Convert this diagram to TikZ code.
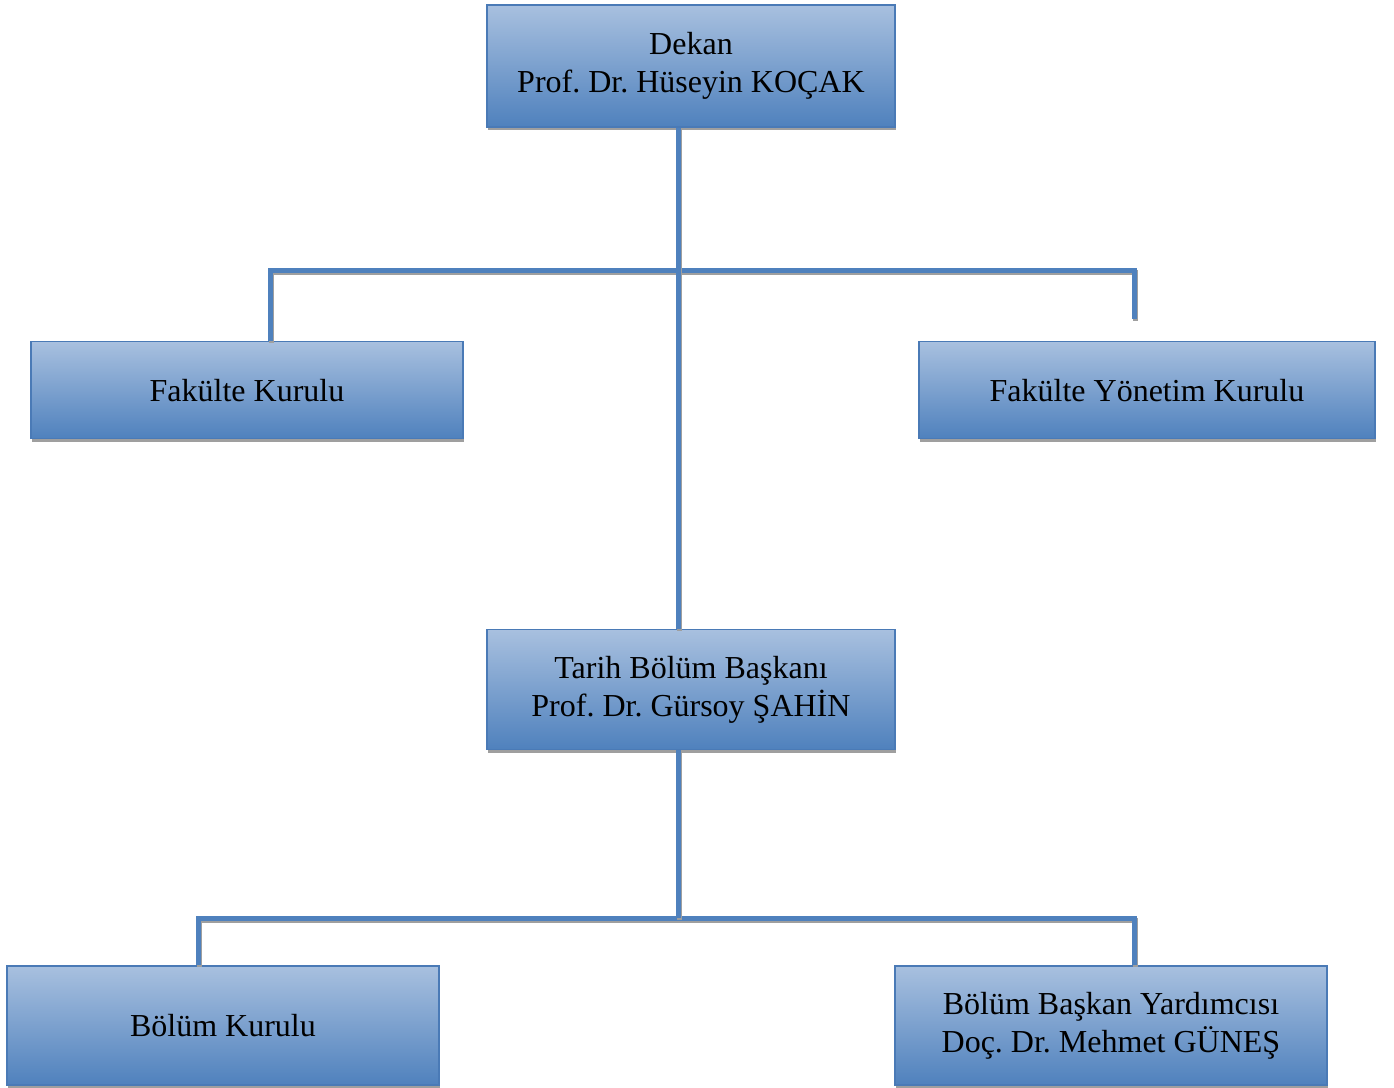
\documentclass[tikz,border=0pt]{standalone}
\usepackage{fontspec}
\setmainfont{Liberation Serif}
\usetikzlibrary{shapes,arrows,positioning,calc,shadows}

\definecolor{boxtop}{RGB}{168,192,223}
\definecolor{boxbot}{RGB}{79,129,189}
\definecolor{boxline}{RGB}{74,122,182}
\definecolor{linkblue}{RGB}{79,129,189}

\begin{document}
\frenchspacing
\begin{tikzpicture}[node distance=2.5cm, auto]

% Define styles
\tikzstyle{unit} = [rectangle, minimum width=204pt, minimum height=61pt, align=center, draw=boxline, line width=0.8pt, top color=boxtop, bottom color=boxbot, drop shadow={shadow xshift=0.6pt, shadow yshift=-1.6pt, fill=gray!75, opacity=1}, font=\fontsize{16pt}{19pt}\selectfont]
\tikzstyle{board} = [unit, minimum width=216pt, minimum height=48.5pt]
\tikzstyle{lower} = [unit, minimum width=216pt, minimum height=59.5pt]
\tikzstyle{link} = [draw=linkblue, line width=2.5pt, preaction={draw=gray!75, line width=2.5pt, transform canvas={shift={(0.5pt,-1pt)}}}]

% Dean and faculty boards
\node (dekan) [unit] {Dekan\\Prof. Dr. Hüseyin KOÇAK};
\node (fak_kurul) [board, below=106.5pt of dekan, xshift=-222pt] {Fakülte Kurulu};
\node (fak_yonetim) [board, minimum width=228pt, below=106.5pt of dekan, xshift=228pt] {Fakülte Yönetim Kurulu};

% Department
\node (bolum_bsk) [unit, minimum height=60pt, below=250.5pt of dekan] {Tarih Bölüm Başkanı\\Prof. Dr. Gürsoy ŞAHİN};
\node (bolum_kurul) [lower, below=107.5pt of bolum_bsk, xshift=-234pt] {Bölüm Kurulu};
\node (bolum_yrd) [lower, below=107.5pt of bolum_bsk, xshift=210pt] {Bölüm Başkan Yardımcısı\\Doç. Dr. Mehmet GÜNEŞ};

\useasboundingbox ([xshift=-345.5pt,yshift=33pt]dekan.center) rectangle ([xshift=351.5pt,yshift=-511pt]dekan.center);

% Connect dean
\coordinate (top_trunk) at ([xshift=-6pt]dekan.south);
\coordinate (top_bar) at ([yshift=-71.5pt]top_trunk);
\draw [link] ([xshift=12pt]fak_kurul.north) |- (top_bar) -| ([xshift=-6pt,yshift=11pt]fak_yonetim.north);
\draw [link] (top_trunk) -- (top_trunk |- bolum_bsk.north);

% Connect department
\coordinate (low_trunk) at ([xshift=-6pt]bolum_bsk.south);
\coordinate (low_bar) at ([yshift=-84pt]low_trunk);
\draw [link] ([xshift=-12pt]bolum_kurul.north) |- (low_bar) -| ([xshift=12pt]bolum_yrd.north);
\draw [link] (low_trunk) -- (low_bar);

\end{tikzpicture}
\end{document}
